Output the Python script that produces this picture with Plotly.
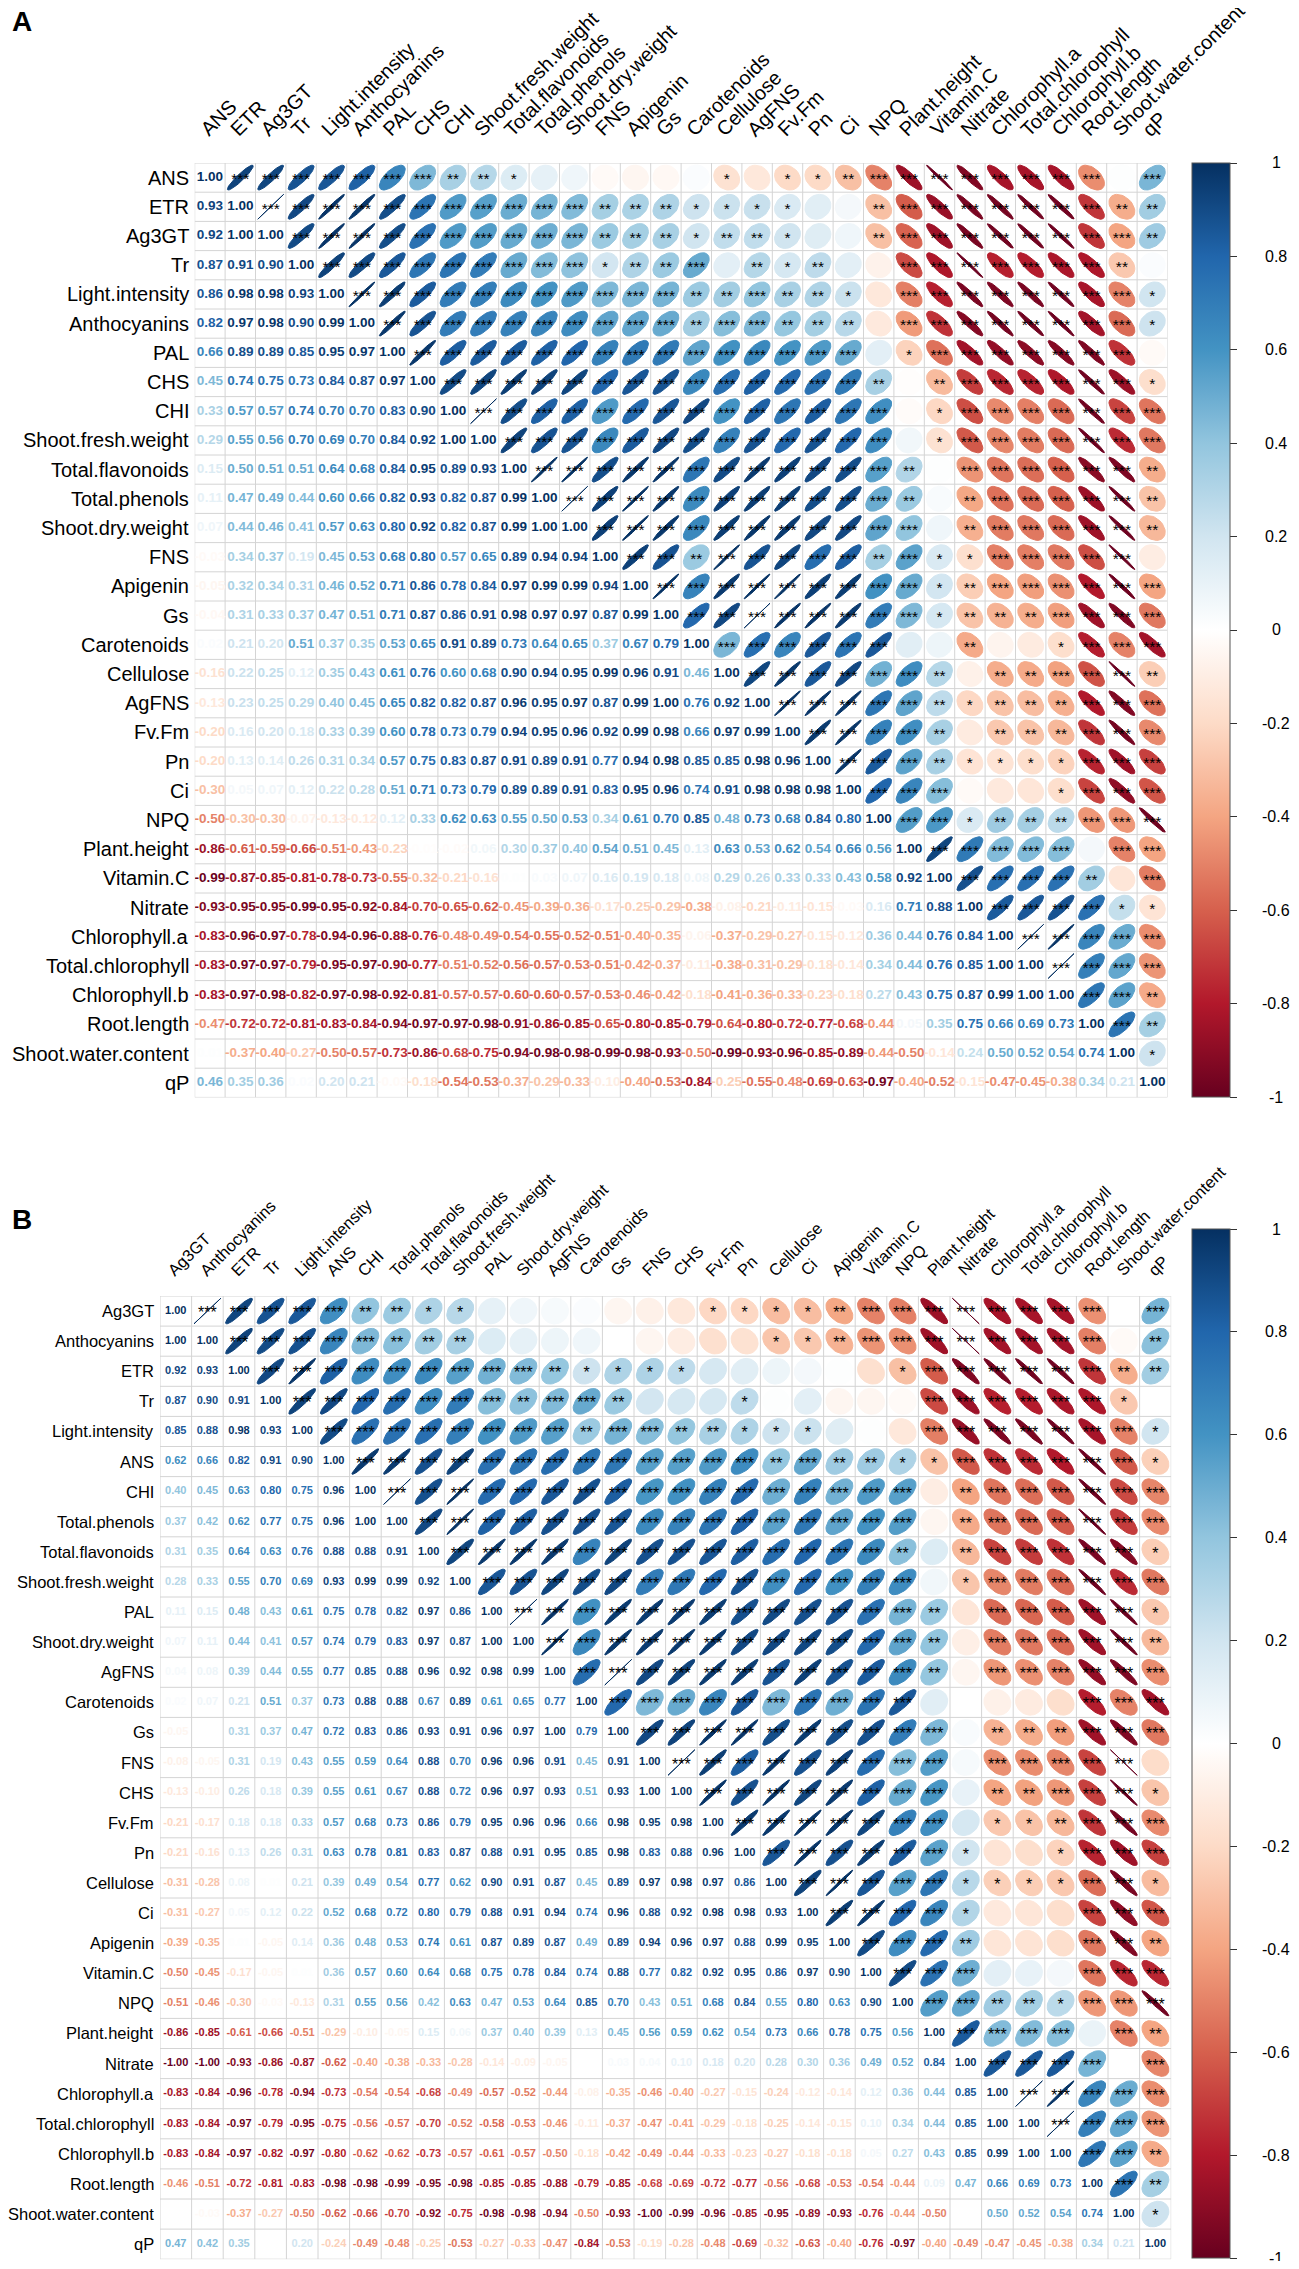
import numpy as np
import plotly.graph_objects as go

# Panel A: variable order and lower-triangle correlations (row by row, diagonal included)
a_vars = ["ANS", "ETR", "Ag3GT", "Tr", "Light.intensity", "Anthocyanins", "PAL", "CHS", "CHI",
          "Shoot.fresh.weight", "Total.flavonoids", "Total.phenols", "Shoot.dry.weight", "FNS",
          "Apigenin", "Gs", "Carotenoids", "Cellulose", "AgFNS", "Fv.Fm", "Pn", "Ci", "NPQ",
          "Plant.height", "Vitamin.C", "Nitrate", "Chlorophyll.a", "Total.chlorophyll",
          "Chlorophyll.b", "Root.length", "Shoot.water.content", "qP"]

a_lower = [
    [1.00],
    [0.93, 1.00],
    [0.92, 1.00, 1.00],
    [0.87, 0.91, 0.90, 1.00],
    [0.86, 0.98, 0.98, 0.93, 1.00],
    [0.82, 0.97, 0.98, 0.90, 0.99, 1.00],
    [0.66, 0.89, 0.89, 0.85, 0.95, 0.97, 1.00],
    [0.45, 0.74, 0.75, 0.73, 0.84, 0.87, 0.97, 1.00],
    [0.33, 0.57, 0.57, 0.74, 0.70, 0.70, 0.83, 0.90, 1.00],
    [0.29, 0.55, 0.56, 0.70, 0.69, 0.70, 0.84, 0.92, 1.00, 1.00],
    [0.15, 0.50, 0.51, 0.51, 0.64, 0.68, 0.84, 0.95, 0.89, 0.93, 1.00],
    [0.11, 0.47, 0.49, 0.44, 0.60, 0.66, 0.82, 0.93, 0.82, 0.87, 0.99, 1.00],
    [0.07, 0.44, 0.46, 0.41, 0.57, 0.63, 0.80, 0.92, 0.82, 0.87, 0.99, 1.00, 1.00],
    [-0.03, 0.34, 0.37, 0.19, 0.45, 0.53, 0.68, 0.80, 0.57, 0.65, 0.89, 0.94, 0.94, 1.00],
    [-0.05, 0.32, 0.34, 0.31, 0.46, 0.52, 0.71, 0.86, 0.78, 0.84, 0.97, 0.99, 0.99, 0.94, 1.00],
    [-0.04, 0.31, 0.33, 0.37, 0.47, 0.51, 0.71, 0.87, 0.86, 0.91, 0.98, 0.97, 0.97, 0.87, 0.99, 1.00],
    [0.02, 0.21, 0.20, 0.51, 0.37, 0.35, 0.53, 0.65, 0.91, 0.89, 0.73, 0.64, 0.65, 0.37, 0.67, 0.79, 1.00],
    [-0.16, 0.22, 0.25, 0.12, 0.35, 0.43, 0.61, 0.76, 0.60, 0.68, 0.90, 0.94, 0.95, 0.99, 0.96, 0.91, 0.46, 1.00],
    [-0.13, 0.23, 0.25, 0.29, 0.40, 0.45, 0.65, 0.82, 0.82, 0.87, 0.96, 0.95, 0.97, 0.87, 0.99, 1.00, 0.76, 0.92, 1.00],
    [-0.20, 0.16, 0.20, 0.18, 0.33, 0.39, 0.60, 0.78, 0.73, 0.79, 0.94, 0.95, 0.96, 0.92, 0.99, 0.98, 0.66, 0.97, 0.99, 1.00],
    [-0.20, 0.13, 0.14, 0.26, 0.31, 0.34, 0.57, 0.75, 0.83, 0.87, 0.91, 0.89, 0.91, 0.77, 0.94, 0.98, 0.85, 0.85, 0.98, 0.96, 1.00],
    [-0.30, 0.05, 0.07, 0.12, 0.22, 0.28, 0.51, 0.71, 0.73, 0.79, 0.89, 0.89, 0.91, 0.83, 0.95, 0.96, 0.74, 0.91, 0.98, 0.98, 0.98, 1.00],
    [-0.50, -0.30, -0.30, -0.07, -0.13, -0.12, 0.12, 0.33, 0.62, 0.63, 0.55, 0.50, 0.53, 0.34, 0.61, 0.70, 0.85, 0.48, 0.73, 0.68, 0.84, 0.80, 1.00],
    [-0.86, -0.61, -0.59, -0.66, -0.51, -0.43, -0.23, -0.01, -0.02, 0.06, 0.30, 0.37, 0.40, 0.54, 0.51, 0.45, 0.13, 0.63, 0.53, 0.62, 0.54, 0.66, 0.56, 1.00],
    [-0.99, -0.87, -0.85, -0.81, -0.78, -0.73, -0.55, -0.32, -0.21, -0.16, 0.01, 0.03, 0.07, 0.16, 0.19, 0.18, 0.08, 0.29, 0.26, 0.33, 0.33, 0.43, 0.58, 0.92, 1.00],
    [-0.93, -0.95, -0.95, -0.99, -0.95, -0.92, -0.84, -0.70, -0.65, -0.62, -0.45, -0.39, -0.36, -0.17, -0.25, -0.29, -0.38, -0.08, -0.21, -0.11, -0.15, -0.03, 0.16, 0.71, 0.88, 1.00],
    [-0.83, -0.96, -0.97, -0.78, -0.94, -0.96, -0.88, -0.76, -0.48, -0.49, -0.54, -0.55, -0.52, -0.51, -0.40, -0.35, -0.06, -0.37, -0.29, -0.27, -0.15, -0.12, 0.36, 0.44, 0.76, 0.84, 1.00],
    [-0.83, -0.97, -0.97, -0.79, -0.95, -0.97, -0.90, -0.77, -0.51, -0.52, -0.56, -0.57, -0.53, -0.51, -0.42, -0.37, -0.11, -0.38, -0.31, -0.29, -0.18, -0.14, 0.34, 0.44, 0.76, 0.85, 1.00, 1.00],
    [-0.83, -0.97, -0.98, -0.82, -0.97, -0.98, -0.92, -0.81, -0.57, -0.57, -0.60, -0.60, -0.57, -0.53, -0.46, -0.42, -0.18, -0.41, -0.36, -0.33, -0.23, -0.18, 0.27, 0.43, 0.75, 0.87, 0.99, 1.00, 1.00],
    [-0.47, -0.72, -0.72, -0.81, -0.83, -0.84, -0.94, -0.97, -0.97, -0.98, -0.91, -0.86, -0.85, -0.65, -0.80, -0.85, -0.79, -0.64, -0.80, -0.72, -0.77, -0.68, -0.44, 0.05, 0.35, 0.75, 0.66, 0.69, 0.73, 1.00],
    [0.01, -0.37, -0.40, -0.27, -0.50, -0.57, -0.73, -0.86, -0.68, -0.75, -0.94, -0.98, -0.98, -0.99, -0.98, -0.93, -0.50, -0.99, -0.93, -0.96, -0.85, -0.89, -0.44, -0.50, -0.14, 0.24, 0.50, 0.52, 0.54, 0.74, 1.00],
    [0.46, 0.35, 0.36, 0.02, 0.20, 0.21, -0.03, -0.18, -0.54, -0.53, -0.37, -0.29, -0.33, -0.10, -0.40, -0.53, -0.84, -0.25, -0.55, -0.48, -0.69, -0.63, -0.97, -0.40, -0.52, -0.15, -0.47, -0.45, -0.38, 0.34, 0.21, 1.00],
]

# Panel B
b_vars = ["Ag3GT", "Anthocyanins", "ETR", "Tr", "Light.intensity", "ANS", "CHI", "Total.phenols",
          "Total.flavonoids", "Shoot.fresh.weight", "PAL", "Shoot.dry.weight", "AgFNS", "Carotenoids",
          "Gs", "FNS", "CHS", "Fv.Fm", "Pn", "Cellulose", "Ci", "Apigenin", "Vitamin.C", "NPQ",
          "Plant.height", "Nitrate", "Chlorophyll.a", "Total.chlorophyll", "Chlorophyll.b",
          "Root.length", "Shoot.water.content", "qP"]

b_lower = [
    [1.00],
    [1.00, 1.00],
    [0.92, 0.93, 1.00],
    [0.87, 0.90, 0.91, 1.00],
    [0.85, 0.88, 0.98, 0.93, 1.00],
    [0.62, 0.66, 0.82, 0.91, 0.90, 1.00],
    [0.40, 0.45, 0.63, 0.80, 0.75, 0.96, 1.00],
    [0.37, 0.42, 0.62, 0.77, 0.75, 0.96, 1.00, 1.00],
    [0.31, 0.35, 0.64, 0.63, 0.76, 0.88, 0.88, 0.91, 1.00],
    [0.28, 0.33, 0.55, 0.70, 0.69, 0.93, 0.99, 0.99, 0.92, 1.00],
    [0.11, 0.15, 0.48, 0.43, 0.61, 0.75, 0.78, 0.82, 0.97, 0.86, 1.00],
    [0.07, 0.11, 0.44, 0.41, 0.57, 0.74, 0.79, 0.83, 0.97, 0.87, 1.00, 1.00],
    [0.04, 0.08, 0.39, 0.44, 0.55, 0.77, 0.85, 0.88, 0.96, 0.92, 0.98, 0.99, 1.00],
    [0.02, 0.07, 0.21, 0.51, 0.37, 0.73, 0.88, 0.88, 0.67, 0.89, 0.61, 0.65, 0.77, 1.00],
    [-0.05, 0.00, 0.31, 0.37, 0.47, 0.72, 0.83, 0.86, 0.93, 0.91, 0.96, 0.97, 1.00, 0.79, 1.00],
    [-0.08, -0.05, 0.31, 0.19, 0.43, 0.55, 0.59, 0.64, 0.88, 0.70, 0.96, 0.96, 0.91, 0.45, 0.91, 1.00],
    [-0.13, -0.10, 0.26, 0.18, 0.39, 0.55, 0.61, 0.67, 0.88, 0.72, 0.96, 0.97, 0.93, 0.51, 0.93, 1.00, 1.00],
    [-0.21, -0.17, 0.18, 0.18, 0.33, 0.57, 0.68, 0.73, 0.86, 0.79, 0.95, 0.96, 0.96, 0.66, 0.98, 0.95, 0.98, 1.00],
    [-0.21, -0.16, 0.13, 0.26, 0.31, 0.63, 0.78, 0.81, 0.83, 0.87, 0.88, 0.91, 0.95, 0.85, 0.98, 0.83, 0.88, 0.96, 1.00],
    [-0.31, -0.28, 0.08, 0.01, 0.21, 0.39, 0.49, 0.54, 0.77, 0.62, 0.90, 0.91, 0.87, 0.45, 0.89, 0.97, 0.98, 0.97, 0.86, 1.00],
    [-0.31, -0.27, 0.05, 0.12, 0.22, 0.52, 0.68, 0.72, 0.80, 0.79, 0.88, 0.91, 0.94, 0.74, 0.96, 0.88, 0.92, 0.98, 0.98, 0.93, 1.00],
    [-0.39, -0.35, 0.01, -0.05, 0.14, 0.36, 0.48, 0.53, 0.74, 0.61, 0.87, 0.89, 0.87, 0.49, 0.89, 0.94, 0.96, 0.97, 0.88, 0.99, 0.95, 1.00],
    [-0.50, -0.45, -0.17, -0.05, 0.01, 0.36, 0.57, 0.60, 0.64, 0.68, 0.75, 0.78, 0.84, 0.74, 0.88, 0.77, 0.82, 0.92, 0.95, 0.86, 0.97, 0.90, 1.00],
    [-0.51, -0.46, -0.30, -0.03, -0.13, 0.31, 0.55, 0.56, 0.42, 0.63, 0.47, 0.53, 0.64, 0.85, 0.70, 0.43, 0.51, 0.68, 0.84, 0.55, 0.80, 0.63, 0.90, 1.00],
    [-0.86, -0.85, -0.61, -0.66, -0.51, -0.29, -0.10, -0.05, 0.15, 0.06, 0.37, 0.40, 0.39, 0.13, 0.45, 0.56, 0.59, 0.62, 0.54, 0.73, 0.66, 0.78, 0.75, 0.56, 1.00],
    [-1.00, -1.00, -0.93, -0.86, -0.87, -0.62, -0.40, -0.38, -0.33, -0.28, -0.14, -0.09, -0.05, 0.00, 0.03, 0.04, 0.10, 0.18, 0.20, 0.28, 0.30, 0.36, 0.49, 0.52, 0.84, 1.00],
    [-0.83, -0.84, -0.96, -0.78, -0.94, -0.73, -0.54, -0.54, -0.68, -0.49, -0.57, -0.52, -0.44, -0.08, -0.35, -0.46, -0.40, -0.27, -0.15, -0.24, -0.12, -0.14, 0.12, 0.36, 0.44, 0.85, 1.00],
    [-0.83, -0.84, -0.97, -0.79, -0.95, -0.75, -0.56, -0.57, -0.70, -0.52, -0.58, -0.53, -0.46, -0.11, -0.37, -0.47, -0.41, -0.29, -0.18, -0.25, -0.14, -0.15, 0.10, 0.34, 0.44, 0.85, 1.00, 1.00],
    [-0.83, -0.84, -0.97, -0.82, -0.97, -0.80, -0.62, -0.62, -0.73, -0.57, -0.61, -0.57, -0.50, -0.18, -0.42, -0.49, -0.44, -0.33, -0.23, -0.27, -0.18, -0.18, 0.05, 0.27, 0.43, 0.85, 0.99, 1.00, 1.00],
    [-0.46, -0.51, -0.72, -0.81, -0.83, -0.98, -0.98, -0.99, -0.95, -0.98, -0.85, -0.85, -0.88, -0.79, -0.85, -0.68, -0.69, -0.72, -0.77, -0.56, -0.68, -0.53, -0.54, -0.44, 0.09, 0.47, 0.66, 0.69, 0.73, 1.00],
    [0.00, -0.03, -0.37, -0.27, -0.50, -0.62, -0.66, -0.70, -0.92, -0.75, -0.98, -0.98, -0.94, -0.50, -0.93, -1.00, -0.99, -0.96, -0.85, -0.95, -0.89, -0.93, -0.76, -0.44, -0.50, 0.00, 0.50, 0.52, 0.54, 0.74, 1.00],
    [0.47, 0.42, 0.35, 0.00, 0.20, -0.24, -0.49, -0.48, -0.25, -0.53, -0.27, -0.33, -0.47, -0.84, -0.53, -0.19, -0.28, -0.48, -0.69, -0.32, -0.63, -0.40, -0.76, -0.97, -0.40, -0.49, -0.47, -0.45, -0.38, 0.34, 0.21, 1.00],
]

# |r| cut-offs for the *, **, *** marks in the upper triangle
a_star_cuts = [0.15, 0.25, 0.40]
b_star_cuts = [0.20, 0.33, 0.43]

cbar_ticks = [1, 0.8, 0.6, 0.4, 0.2, 0, -0.2, -0.4, -0.6, -0.8, -1]

# corrplot RdBu palette
rdbu = ["#67001F", "#B2182B", "#D6604D", "#F4A582", "#FDDBC7", "#FFFFFF",
        "#D1E5F0", "#92C5DE", "#4393C3", "#2166AC", "#053061"]

# the page body has an 8px margin, so the figure is kept inside the window
OFF = 8
W, H = 1299 - OFF, 2269 - 2 * OFF
FONT = "Liberation Sans, Arial, sans-serif"


def px_x(v):
    return (v - OFF) / W


def px_y(v):
    return 1 - (v - OFF) / H


def hex_rgb(h):
    return [int(h[i:i + 2], 16) for i in (1, 3, 5)]


stops = np.array([hex_rgb(c) for c in rdbu], dtype=float)


def r_color(r):
    t = (r + 1) / 2 * (len(rdbu) - 1)
    i = int(min(max(np.floor(t), 0), len(rdbu) - 2))
    f = t - i
    c = stops[i] * (1 - f) + stops[i + 1] * f
    return "rgb(%d,%d,%d)" % tuple(np.round(c))


def full_matrix(lower):
    n = len(lower)
    m = np.zeros((n, n))
    for i, row in enumerate(lower):
        for j, v in enumerate(row):
            m[i, j] = v
            m[j, i] = v
    return m


# positions below are page pixels of the original figure
panels = [
    dict(name="A", vars=a_vars, m=full_matrix(a_lower), cuts=a_star_cuts,
         gx0=194.7, gy0=163.0, cw=30.4, ch=29.2, ax="", lab_fs=20, num_fs=13.5, star_fs=15.5,
         col_gap=20, cb_top=163, cb_bot=1097, letter_y=22),
    dict(name="B", vars=b_vars, m=full_matrix(b_lower), cuts=b_star_cuts,
         gx0=160.0, gy0=1296.0, cw=31.6, ch=30.1, ax="2", lab_fs=16.5, num_fs=11, star_fs=16,
         col_gap=14, cb_top=1229, cb_bot=2258, letter_y=1219),
]

colorscale = [[k / (len(rdbu) - 1), c] for k, c in enumerate(rdbu)]

fig = go.Figure()
annotations = []
layout_axes = {}

for p in panels:
    n = len(p["vars"])
    m = p["m"]
    xa, ya = "x" + p["ax"], "y" + p["ax"]
    gx1 = p["gx0"] + n * p["cw"]
    gy1 = p["gy0"] + n * p["ch"]
    layout_axes["xaxis" + p["ax"]] = dict(domain=[px_x(p["gx0"]), px_x(gx1)], range=[0.5, n + 0.5],
                                          visible=False, fixedrange=True)
    layout_axes["yaxis" + p["ax"]] = dict(domain=[px_y(gy1), px_y(p["gy0"])], range=[n + 0.5, 0.5],
                                          visible=False, fixedrange=True)

    # cell grid
    gxs, gys = [], []
    for k in range(n + 1):
        v = k + 0.5
        gxs += [v, v, None, 0.5, n + 0.5, None]
        gys += [0.5, n + 0.5, None, v, v, None]
    fig.add_trace(go.Scatter(x=gxs, y=gys, mode="lines", line=dict(color="#D4D4D4", width=1),
                             xaxis=xa, yaxis=ya, hoverinfo="skip", showlegend=False))

    # ellipses in the upper triangle, grouped by value so each group shares a colour
    groups = {}
    k = np.linspace(0, 2 * np.pi, 44)
    for i in range(n):
        for j in range(i + 1, n):
            r = round(float(m[i, j]), 2)
            a = np.arccos(np.clip(r, -1, 1))
            ex = 0.85 * np.cos(k + a / 2) / 2
            ey = 0.85 * np.cos(k - a / 2) / 2
            g = groups.setdefault(r, ([], []))
            g[0].extend(list(j + 1 + ex) + [None])
            g[1].extend(list(i + 1 - ey) + [None])
    for r, (xs, ys) in groups.items():
        c = r_color(r)
        fig.add_trace(go.Scatter(x=xs, y=ys, mode="lines", fill="toself", fillcolor=c,
                                 line=dict(color=c, width=1), xaxis=xa, yaxis=ya,
                                 hoverinfo="skip", showlegend=False))

    # significance marks
    sx, sy, st = [], [], []
    for i in range(n):
        for j in range(i + 1, n):
            v = abs(m[i, j])
            s = "***" if v >= p["cuts"][2] else "**" if v >= p["cuts"][1] else "*" if v >= p["cuts"][0] else ""
            if s:
                sx.append(j + 1)
                sy.append(i + 1 + 0.1)
                st.append(s)
    fig.add_trace(go.Scatter(x=sx, y=sy, text=st, mode="text", textposition="middle center",
                             textfont=dict(family=FONT, size=p["star_fs"], color="black"),
                             xaxis=xa, yaxis=ya, hoverinfo="skip", showlegend=False))

    # coefficients in the lower triangle
    nx, ny, nt, nc = [], [], [], []
    for i in range(n):
        for j in range(i + 1):
            v = m[i, j]
            nx.append(j + 1)
            ny.append(i + 1)
            nt.append("%.2f" % v)
            nc.append(r_color(v))
    fig.add_trace(go.Scatter(x=nx, y=ny, text=nt, mode="text", textposition="middle center",
                             textfont=dict(family=FONT, size=p["num_fs"], color=nc, weight="bold"),
                             xaxis=xa, yaxis=ya, hoverinfo="skip", showlegend=False))

    # colour bar
    cb_len = p["cb_bot"] - p["cb_top"]
    fig.add_trace(go.Scatter(
        x=[1], y=[1], mode="markers", xaxis=xa, yaxis=ya, hoverinfo="skip", showlegend=False,
        marker=dict(color=[0], cmin=-1, cmax=1, colorscale=colorscale, opacity=0, size=1,
                    showscale=True,
                    colorbar=dict(x=px_x(1192), xanchor="left", xpad=0, ypad=0,
                                  y=px_y((p["cb_top"] + p["cb_bot"]) / 2), yanchor="middle",
                                  len=cb_len / H, lenmode="fraction",
                                  thickness=38, thicknessmode="pixels",
                                  outlinewidth=1, outlinecolor="#555555",
                                  tickmode="array", tickvals=cbar_ticks, ticks="outside",
                                  ticklen=7, tickwidth=1, tickcolor="#333333",
                                  showticklabels=False))))
    for t in cbar_ticks:
        ypx = p["cb_bot"] - (t + 1) / 2 * cb_len
        annotations.append(dict(x=px_x(1276), y=px_y(ypx), xref="paper", yref="paper",
                                text=("%g" % t), showarrow=False, xanchor="center", yanchor="middle",
                                font=dict(family=FONT, size=16, color="black")))

    # row labels
    for i, name in enumerate(p["vars"]):
        annotations.append(dict(x=px_x(p["gx0"] - 4), y=i + 1, xref="paper", yref=ya,
                                text=name, showarrow=False, xanchor="right", yanchor="middle",
                                font=dict(family=FONT, size=p["lab_fs"], color="black")))
    # column labels, rotated
    h = p["lab_fs"] * 1.2
    for j, name in enumerate(p["vars"]):
        annotations.append(dict(x=j + 1, y=px_y(p["gy0"] - p["col_gap"]), xref=xa, yref="paper",
                                text=name, showarrow=False, textangle=-45,
                                xanchor="left", yanchor="bottom", xshift=-0.707 * h,
                                font=dict(family=FONT, size=p["lab_fs"], color="black")))

    # panel letter
    annotations.append(dict(x=px_x(10), y=px_y(p["letter_y"]), xref="paper", yref="paper",
                            text="<b>%s</b>" % p["name"], showarrow=False, xanchor="left",
                            yanchor="middle", font=dict(family=FONT, size=28, color="black")))

fig.update_layout(
    width=W, height=H,
    margin=dict(l=0, r=0, t=0, b=0),
    paper_bgcolor="white", plot_bgcolor="white",
    showlegend=False,
    annotations=annotations,
    **layout_axes,
)

fig.write_html("out.html")
